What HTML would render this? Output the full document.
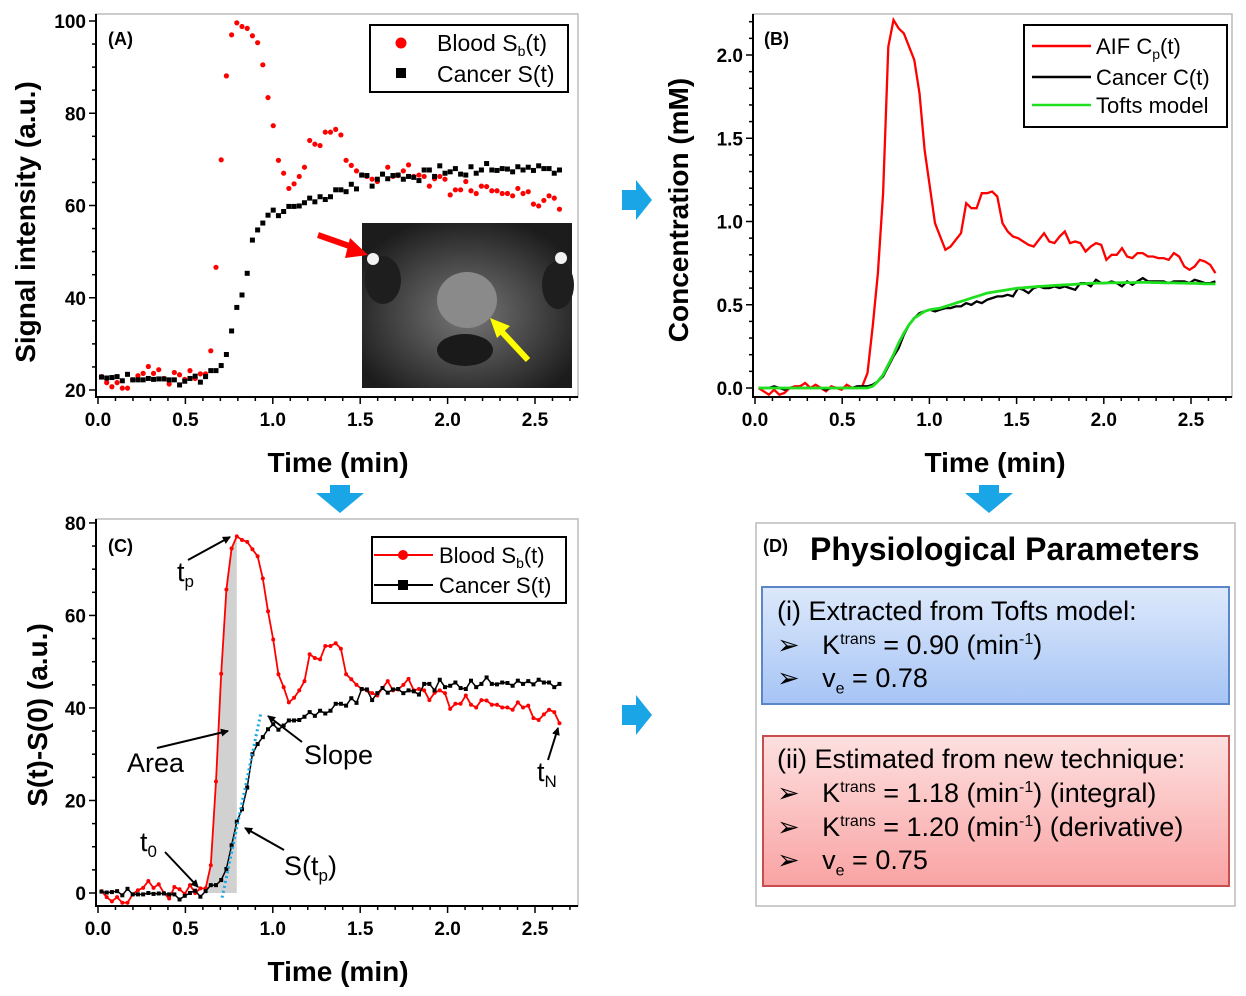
<!DOCTYPE html>
<html><head><meta charset="utf-8">
<style>
html,body{margin:0;padding:0;background:#fff;}
body{width:1246px;height:996px;overflow:hidden;position:relative;font-family:"Liberation Sans",sans-serif;}
svg{position:absolute;left:0;top:0;}
.d{position:absolute;font-family:"Liberation Sans",sans-serif;color:#000;white-space:nowrap;}
</style></head><body>
<svg id="fig" width="1246" height="996" viewBox="0 0 1246 996">
<defs>
<linearGradient id="gb" x1="0" y1="0" x2="0" y2="1"><stop offset="0" stop-color="#dde9fb"/><stop offset="1" stop-color="#a6c4f5"/></linearGradient>
<linearGradient id="gr" x1="0" y1="0" x2="0" y2="1"><stop offset="0" stop-color="#fde0e0"/><stop offset="1" stop-color="#f9a3a3"/></linearGradient>
<radialGradient id="mri" cx="0.5" cy="0.55" r="0.6"><stop offset="0" stop-color="#777"/><stop offset="0.5" stop-color="#4a4a4a"/><stop offset="1" stop-color="#1c1c1c"/></radialGradient>
<marker id="ah" markerWidth="8" markerHeight="8" refX="7" refY="4" orient="auto" markerUnits="userSpaceOnUse"><path d="M0,0 L8,4 L0,8 z" fill="#000"/></marker>
</defs>
<g id="A"></g>
<g id="B"></g>
<g id="C"></g>
<g id="D">
  <rect x="756" y="523" width="479" height="383" fill="#fff" stroke="#bbb" stroke-width="1.5"/>
  <rect x="762" y="587" width="467" height="117" fill="url(#gb)" stroke="#5b87c9" stroke-width="2"/>
  <rect x="763" y="736" width="466" height="150" fill="url(#gr)" stroke="#c94d4d" stroke-width="2"/>
</g>
<g id="arrows">
  <path d="M622,190 h14 v-10 l16,20 l-16,20 v-10 h-14 z" fill="#1aa6e6"/>
  <path d="M622,705 h14 v-10 l16,20 l-16,20 v-10 h-14 z" fill="#1aa6e6"/>
  <path d="M330,485 h20 v8 h14 l-24,20 l-24,-20 h14 z" fill="#1aa6e6"/>
  <path d="M979,485 h20 v8 h14 l-24,20 l-24,-20 h14 z" fill="#1aa6e6"/>
</g>
</svg>

<div class="d" style="left:763px;top:536px;font-size:18px;font-weight:bold;">(D)</div>
<div class="d" style="left:810px;top:531px;font-size:32px;font-weight:bold;">Physiological Parameters</div>
<div class="d" style="left:777px;top:596px;font-size:27px;">(i) Extracted from Tofts model:</div>
<div class="d" style="left:777px;top:630px;font-size:27px;">➢&nbsp;&nbsp;&nbsp;K<sup style="font-size:16px">trans</sup> = 0.90 (min<sup style="font-size:16px">-1</sup>)</div>
<div class="d" style="left:777px;top:663px;font-size:27px;">➢&nbsp;&nbsp;&nbsp;v<sub style="font-size:16px">e</sub> = 0.78</div>
<div class="d" style="left:777px;top:744px;font-size:27px;">(ii) Estimated from new technique:</div>
<div class="d" style="left:777px;top:778px;font-size:27px;">➢&nbsp;&nbsp;&nbsp;K<sup style="font-size:16px">trans</sup> = 1.18 (min<sup style="font-size:16px">-1</sup>) (integral)</div>
<div class="d" style="left:777px;top:812px;font-size:27px;">➢&nbsp;&nbsp;&nbsp;K<sup style="font-size:16px">trans</sup> = 1.20 (min<sup style="font-size:16px">-1</sup>) (derivative)</div>
<div class="d" style="left:777px;top:845px;font-size:27px;">➢&nbsp;&nbsp;&nbsp;v<sub style="font-size:16px">e</sub> = 0.75</div>

<script>
// ---- data (t = T0 + i*DT minutes) ----
const T0 = 0.02, T_END = 2.64;
const bloodSignal = [22.9,21.6,20.7,21.6,20.4,20.4,22.2,23.1,23.6,25.1,23.6,24.4,22.5,21.3,23.8,23.3,22.3,24.2,22.5,23.5,23.5,28.5,46.6,69.9,88.1,97.0,99.6,98.8,98.4,96.8,95.3,90.5,83.4,77.3,69.8,67.0,63.7,64.7,66.3,68.3,74.1,73.3,73.0,75.9,75.9,76.5,75.3,69.8,68.7,67.5,66.6,66.3,65.7,65.2,66.8,68.3,66.3,66.5,67.5,68.8,66.3,66.6,66.3,64.2,65.8,66.3,65.7,62.3,63.4,63.4,65.2,63.2,62.6,64.2,64.1,63.2,63.2,62.6,62.6,62.1,63.7,62.6,63.0,60.3,59.9,61.1,62.1,61.6,59.2];
const cancerSignal = [22.8,22.6,22.7,22.9,22.0,23.4,22.2,22.2,22.2,22.5,22.3,22.4,22.4,22.2,22.2,21.1,21.9,22.5,23.0,21.7,22.9,24.2,24.2,25.3,27.7,32.8,37.9,40.6,45.3,52.5,54.7,56.2,57.9,59.0,57.8,58.7,59.8,59.8,59.9,60.6,61.6,60.8,61.9,61.3,61.9,63.4,63.4,63.0,64.6,63.6,66.6,66.5,64.2,65.7,66.8,65.8,66.5,66.6,65.7,66.3,66.1,65.4,67.7,67.7,66.3,68.6,67.0,67.3,68.0,66.8,66.6,68.4,67.0,67.7,69.1,67.7,67.6,68.0,67.9,67.3,68.4,67.7,68.3,67.6,68.6,68.0,68.0,67.0,67.7];
const bloodBaseline = 22.5, cancerBaseline = 22.5;
const aifConc = [0,-0.02,-0.04,-0.01,-0.04,-0.03,0,0.01,0.01,0.03,0,0.02,0,-0.02,0.01,0,-0.01,0.02,0,0,0.01,0.09,0.37,0.69,1.17,2.05,2.21,2.16,2.13,2.05,1.97,1.77,1.43,1.21,0.99,0.91,0.83,0.85,0.89,0.93,1.11,1.08,1.08,1.17,1.17,1.18,1.15,0.99,0.94,0.91,0.90,0.88,0.86,0.85,0.89,0.93,0.88,0.87,0.91,0.94,0.87,0.88,0.87,0.82,0.85,0.87,0.86,0.77,0.80,0.80,0.84,0.79,0.78,0.81,0.81,0.79,0.79,0.78,0.78,0.77,0.81,0.79,0.73,0.71,0.73,0.77,0.76,0.74,0.69];
const cancerConc = [0,0,0,0.01,0,-0.01,0,0,0,0,0,0,0,-0.01,0,0,0,0,0,0.01,0.01,0.01,0.02,0.04,0.07,0.13,0.19,0.24,0.32,0.38,0.42,0.45,0.46,0.47,0.46,0.47,0.48,0.48,0.49,0.49,0.51,0.50,0.52,0.51,0.53,0.54,0.55,0.55,0.56,0.55,0.60,0.59,0.57,0.60,0.61,0.60,0.60,0.61,0.60,0.61,0.60,0.59,0.63,0.63,0.61,0.65,0.63,0.63,0.64,0.63,0.61,0.64,0.62,0.64,0.66,0.64,0.64,0.64,0.64,0.63,0.64,0.64,0.64,0.63,0.65,0.64,0.63,0.63,0.64];
const toftsConc = [0,0,0,0,0,0,0,0,0,0,0,0,0,0,0,0,0,0,0,0,0,0,0.01,0.04,0.08,0.14,0.20,0.27,0.33,0.38,0.42,0.44,0.46,0.47,0.475,0.48,0.49,0.50,0.51,0.52,0.53,0.54,0.55,0.56,0.57,0.575,0.58,0.585,0.59,0.595,0.60,0.602,0.605,0.607,0.61,0.612,0.614,0.616,0.618,0.62,0.621,0.623,0.625,0.627,0.629,0.63,0.63,0.631,0.632,0.632,0.633,0.633,0.633,0.634,0.634,0.634,0.633,0.633,0.632,0.632,0.631,0.63,0.63,0.629,0.628,0.627,0.626,0.625,0.625];
const xTicks = [0,0.5,1,1.5,2,2.5];
const xTickLabels = ["0.0","0.5","1.0","1.5","2.0","2.5"];
const yTicksA = [20,40,60,80,100];
const yTicksB = [0,0.5,1,1.5,2];
const yTickLabelsB = ["0.0","0.5","1.0","1.5","2.0"];
const yTicksC = [0,20,40,60,80];
const peakIndex = 26, t0Index = 20;
const slopeT = [0.71, 0.93], slopeY = [-1, 38.6];

const NS = "http://www.w3.org/2000/svg";
const N = bloodSignal.length;
const DT = (T_END - T0) / (N - 1);
const tAt = i => T0 + i * DT;

function el(parent, tag, attrs) {
  const e = document.createElementNS(NS, tag);
  for (const k in attrs) e.setAttribute(k, attrs[k]);
  parent.appendChild(e);
  return e;
}
function txt(parent, x, y, s, size, weight, anchor) {
  const e = el(parent, "text", {x: x, y: y, "font-size": size, "font-weight": weight || "normal", "text-anchor": anchor || "start", "font-family": "Liberation Sans, sans-serif"});
  e.textContent = s;
  return e;
}

function axes(g, cfg) {
  const {L, R, T, B, x, y, yMin, yMax, yMinor, yTicks, yLabels} = cfg;
  const frame = el(g, "rect", {x: L, y: T, width: R - L, height: B - T, fill: "none", stroke: "#bbb", "stroke-width": 1.5});
  
  
  const ax = el(g, "path", {d: `M${L},${T} V${B} H${R}`, stroke: "#000", "stroke-width": 2, fill: "none"});
  
  
  for (let v = 0; v <= 2.71; v += 0.1) {
    const major = Math.abs(v / 0.5 - Math.round(v / 0.5)) < 1e-6;
    const tk = el(g, "line", {x1: x(v), x2: x(v), y1: B, y2: B + (major ? 7 : 4), stroke: "#000", "stroke-width": 1.5});
    
    
  }
  xTicks.forEach((v, i) => {
    const t = txt(g, x(v), B + 29, xTickLabels[i], 19, "bold", "middle");
    
    
  });
  for (let v = yMin; v <= yMax + 1e-6; v += yMinor) {
    const major = yTicks.some(m => Math.abs(m - v) < 1e-6);
    const tk = el(g, "line", {x1: L - (major ? 7 : 4), x2: L, y1: y(v), y2: y(v), stroke: "#000", "stroke-width": 1.5});
    
    
  }
  yTicks.forEach((v, i) => {
    const t = txt(g, L - 10, y(v) + 7, yLabels[i], 19, "bold", "end");
    
    
  });
}

function linePath(vals, x, y, tf) {
  return vals.map((v, i) => (i ? "L" : "M") + x(tf(i)).toFixed(1) + "," + y(v).toFixed(1)).join(" ");
}

// ---------- Panel A ----------
(function () {
  const g = document.getElementById("A");
  const x = t => 98 + t * 174.8;
  const y = v => 390 - (v - 20) * 4.6125;
  axes(g, {L: 96, R: 578, T: 14, B: 397, x, y, yMin: 20, yMax: 100, yMinor: 5, yTicks: yTicksA, yLabels: yTicksA.map(String)});
  const ins = el(g, "g", {});
  
  
  el(ins, "rect", {x: 362, y: 223, width: 210, height: 165, fill: "url(#mri)"});
  el(ins, "ellipse", {cx: 467, cy: 300, rx: 30, ry: 28, fill: "#8a8a8a"});
  el(ins, "ellipse", {cx: 465, cy: 350, rx: 28, ry: 16, fill: "#1a1a1a"});
  el(ins, "ellipse", {cx: 383, cy: 280, rx: 18, ry: 24, fill: "#1e1e1e"});
  el(ins, "ellipse", {cx: 558, cy: 285, rx: 16, ry: 24, fill: "#1e1e1e"});
  el(ins, "circle", {cx: 373, cy: 259, r: 6, fill: "#f2f2f2"});
  el(ins, "circle", {cx: 561, cy: 258, r: 6, fill: "#f2f2f2"});
  el(ins, "path", {d: "M318,235 L355,248", stroke: "#f00", "stroke-width": 6});
  el(ins, "path", {d: "M350,238 L368,255 L345,258 z", fill: "#f00"});
  el(ins, "path", {d: "M528,360 L502,332", stroke: "#ff0", "stroke-width": 6});
  el(ins, "path", {d: "M490,318 L510,326 L497,338 z", fill: "#ff0"});
  bloodSignal.forEach((v, i) => {
    const c = el(g, "circle", {cx: x(tAt(i)), cy: y(v), r: 2.6, fill: "#f00"});
    
    
  });
  cancerSignal.forEach((v, i) => {
    const r = el(g, "rect", {x: x(tAt(i)) - 2.5, y: y(v) - 2.5, width: 5, height: 5, fill: "#000"});
    
    
  });
  const lab = txt(g, 108, 45, "(A)", 18, "bold");  
  const lg = el(g, "g", {});  
  el(lg, "rect", {x: 370, y: 25, width: 198, height: 67, fill: "#fff", stroke: "#000", "stroke-width": 2});
  el(lg, "circle", {cx: 401, cy: 43, r: 5.5, fill: "#f00"});
  el(lg, "rect", {x: 396, y: 68, width: 10, height: 10, fill: "#000"});
  const l1 = txt(lg, 437, 51, "Blood S", 23); const s1 = el(lg, "tspan", {"font-size": 14, dy: 5}); s1.textContent = "b"; const s2 = el(lg, "tspan", {dy: -5}); s2.textContent = "(t)"; l1.appendChild(s1); l1.appendChild(s2);
  txt(lg, 437, 82, "Cancer S(t)", 23);
  const xl = txt(g, 338, 472, "Time (min)", 28, "bold", "middle");  
  const yl = txt(g, 0, 0, "Signal intensity (a.u.)", 28, "bold", "middle"); yl.setAttribute("transform", "translate(35,222) rotate(-90)");
   
})();

// ---------- Panel B ----------
(function () {
  const g = document.getElementById("B");
  const x = t => 755 + t * 174.4;
  const y = v => 388 - v * 166.5;
  axes(g, {L: 753, R: 1232, T: 14, B: 397, x, y, yMin: 0, yMax: 2.2, yMinor: 0.1, yTicks: yTicksB, yLabels: yTickLabelsB});
  const a = el(g, "path", {d: linePath(aifConc, x, y, tAt), stroke: "#f00", "stroke-width": 2.3, fill: "none"});
   
  const c = el(g, "path", {d: linePath(cancerConc, x, y, tAt), stroke: "#000", "stroke-width": 2.3, fill: "none"});
   
  const tf = el(g, "path", {d: linePath(toftsConc, x, y, tAt), stroke: "#1ee01e", "stroke-width": 2.8, fill: "none"});
   
  const lab = txt(g, 764, 45, "(B)", 18, "bold");  
  const lg = el(g, "g", {});  
  el(lg, "rect", {x: 1024, y: 25, width: 203, height: 102, fill: "#fff", stroke: "#000", "stroke-width": 2});
  el(lg, "line", {x1: 1032, x2: 1091, y1: 46, y2: 46, stroke: "#f00", "stroke-width": 2.5});
  el(lg, "line", {x1: 1032, x2: 1091, y1: 77, y2: 77, stroke: "#000", "stroke-width": 2.5});
  el(lg, "line", {x1: 1032, x2: 1091, y1: 105, y2: 105, stroke: "#1ee01e", "stroke-width": 2.5});
  const l1 = txt(lg, 1096, 54, "AIF C", 22); const s1 = el(lg, "tspan", {"font-size": 14, dy: 5}); s1.textContent = "p"; const s2 = el(lg, "tspan", {dy: -5}); s2.textContent = "(t)"; l1.appendChild(s1); l1.appendChild(s2);
  txt(lg, 1096, 85, "Cancer C(t)", 22);
  txt(lg, 1096, 113, "Tofts model", 22);
  const xl = txt(g, 995, 472, "Time (min)", 28, "bold", "middle");  
  const yl = txt(g, 0, 0, "Concentration (mM)", 28, "bold", "middle"); yl.setAttribute("transform", "translate(688,210) rotate(-90)");
   
})();

// ---------- Panel C ----------
(function () {
  const g = document.getElementById("C");
  const x = t => 98 + t * 174.8;
  const y = v => 893 - v * 4.626;
  axes(g, {L: 96, R: 578, T: 519, B: 906, x, y, yMin: 0, yMax: 80, yMinor: 5, yTicks: yTicksC, yLabels: yTicksC.map(String)});
  const blood = bloodSignal.map(v => v - bloodBaseline);
  const cancer = cancerSignal.map(v => v - cancerBaseline);
  let d = `M${x(tAt(t0Index))},${y(0)}`;
  for (let i = t0Index; i <= peakIndex; i++) d += ` L${x(tAt(i))},${y(blood[i])}`;
  d += ` L${x(tAt(peakIndex))},${y(0)} Z`;
  const sh = el(g, "path", {d: d, fill: "#bdbdbd", opacity: 0.7});
   
  const bl = el(g, "path", {d: linePath(blood, x, y, tAt), stroke: "#f00", "stroke-width": 1.8, fill: "none"});
   
  blood.forEach((v, i) => {
    const c = el(g, "circle", {cx: x(tAt(i)), cy: y(v), r: 2, fill: "#f00"});
     
  });
  const cl = el(g, "path", {d: linePath(cancer, x, y, tAt), stroke: "#000", "stroke-width": 1.5, fill: "none"});
   
  cancer.forEach((v, i) => {
    const r = el(g, "rect", {x: x(tAt(i)) - 2, y: y(v) - 2, width: 4, height: 4, fill: "#000"});
     
  });
  const sl = el(g, "line", {x1: x(slopeT[0]), y1: y(slopeY[0]), x2: x(slopeT[1]), y2: y(slopeY[1]), stroke: "#1aa6e6", "stroke-width": 3, "stroke-dasharray": "2,3"});
   
  const ann = [
    [188, 560, 230, 537, "t", "p", 177, 581],
    [157, 748, 228, 731, "Area", "", 127, 772],
    [302, 742, 268, 716, "Slope", "", 304, 764],
    [284, 850, 245, 828, "S(t", "p", 284, 875],
    [165, 852, 198, 887, "t", "0", 140, 851],
    [548, 760, 558, 728, "t", "N", 537, 781]
  ];
  ann.forEach(a => {
    const ln = el(g, "line", {x1: a[0], y1: a[1], x2: a[2], y2: a[3], stroke: "#000", "stroke-width": 2, "marker-end": "url(#ah)"});
     
    const t = txt(g, a[6], a[7], a[4], 27);
    if (a[5]) { const s = el(t, "tspan", {"font-size": 17, dy: 6}); s.textContent = a[5]; }
    if (a[4] === "S(t") { const s = el(t, "tspan", {dy: -6}); s.textContent = ")"; }
     
  });
  const lab = txt(g, 108, 552, "(C)", 18, "bold");  
  const lg = el(g, "g", {});  
  el(lg, "rect", {x: 372, y: 537, width: 194, height: 66, fill: "#fff", stroke: "#000", "stroke-width": 2});
  el(lg, "line", {x1: 374, x2: 433, y1: 555, y2: 555, stroke: "#f00", "stroke-width": 2});
  el(lg, "circle", {cx: 403, cy: 555, r: 5, fill: "#f00"});
  el(lg, "line", {x1: 374, x2: 433, y1: 585, y2: 585, stroke: "#000", "stroke-width": 2});
  el(lg, "rect", {x: 398, y: 580, width: 10, height: 10, fill: "#000"});
  const l1 = txt(lg, 439, 563, "Blood S", 22); const s1 = el(lg, "tspan", {"font-size": 14, dy: 5}); s1.textContent = "b"; const s2 = el(lg, "tspan", {dy: -5}); s2.textContent = "(t)"; l1.appendChild(s1); l1.appendChild(s2);
  txt(lg, 439, 593, "Cancer S(t)", 22);
  const xl = txt(g, 338, 981, "Time (min)", 28, "bold", "middle");  
  const yl = txt(g, 0, 0, "S(t)-S(0) (a.u.)", 28, "bold", "middle"); yl.setAttribute("transform", "translate(47,715) rotate(-90)");
   
})();
</script>
</body></html>
